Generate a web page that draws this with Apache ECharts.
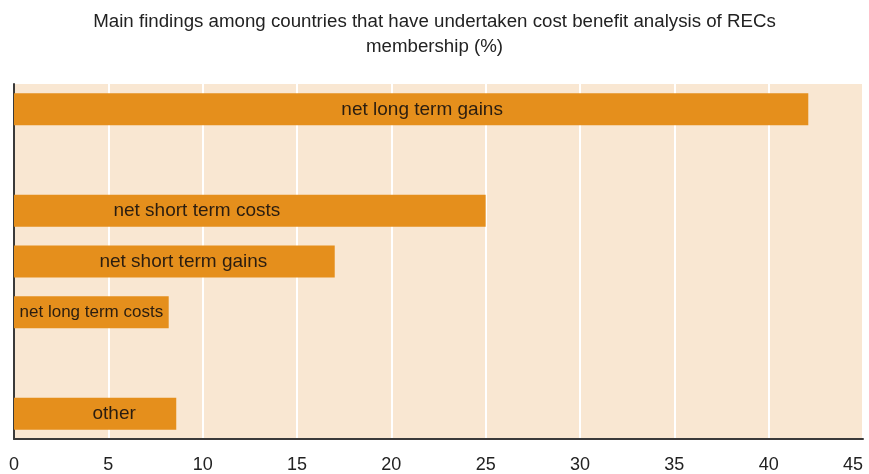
<!DOCTYPE html>
<html>
<head>
<meta charset="utf-8">
<script src="https://cdn.jsdelivr.net/npm/echarts@6/dist/echarts.min.js"></script>
<style>
  html, body { margin: 0; padding: 0; background: #ffffff; }
  #chart { width: 869px; height: 474px; }
</style>
</head>
<body>
<div id="chart"></div>
<script>
// Rows of the chart, top to bottom; empty strings are spacer rows with no bar
const categories = ['net long term gains', '', 'net short term costs', 'net short term gains', 'net long term costs', '', 'other'];
// Share of countries (%) for each row; null for spacer rows
const shares = [42.1, null, 25.0, 17.0, 8.2, null, 8.6];
// Horizontal axis tick values
const xTicks = [0, 5, 10, 15, 20, 25, 30, 35, 40, 45];

const titleText = 'Main findings among countries that have undertaken cost benefit analysis of RECs\nmembership (%)';

// Horizontal nudges for the in-bar labels (px)
const labelNudge = { 'net long term gains': 11, 'net short term costs': -53, 'net short term gains': 9, 'net long term costs': 0, 'other': 19 };

const FONT = '"Liberation Sans", Arial, Helvetica, sans-serif';

const barData = categories.map((name, i) => {
  if (shares[i] === null) return '-';
  return {
    value: shares[i],
    label: {
      offset: [labelNudge[name] || 0, 0],
      fontSize: name === 'net long term costs' ? 17 : 19
    }
  };
});

const chart = echarts.init(document.getElementById('chart'), null, { renderer: 'canvas' });
chart.setOption({
  backgroundColor: '#ffffff',
  animation: false,
  title: {
    text: titleText,
    left: 'center',
    top: 4,
    textStyle: { fontFamily: FONT, fontSize: 18.7, fontWeight: 'normal', color: '#222222', lineHeight: 25, align: 'center' }
  },
  grid: {
    left: 14, right: 6, top: 84, bottom: 35,
    outerBoundsMode: 'none',
    containLabel: false,
    show: true, backgroundColor: '#f9e7d2', borderWidth: 0
  },
  xAxis: {
    type: 'value',
    min: xTicks[0],
    max: xTicks[xTicks.length - 1],
    interval: xTicks[1] - xTicks[0],
    axisLine: { show: true, lineStyle: { color: '#3a3a3a', width: 2 } },
    axisTick: { show: false },
    axisLabel: { fontFamily: FONT, fontSize: 18, color: '#222222', margin: 17, alignMaxLabel: 'right' },
    splitLine: { show: true, lineStyle: { color: '#ffffff', width: 2 } }
  },
  yAxis: {
    type: 'category',
    data: categories,
    inverse: true,
    axisLine: { show: true, onZero: false, lineStyle: { color: '#3a3a3a', width: 2 } },
    axisTick: { show: false },
    axisLabel: { show: false },
    splitLine: { show: false }
  },
  series: [{
    type: 'bar',
    data: barData,
    barWidth: 32,
    itemStyle: { color: '#e58f1c' },
    label: {
      show: true,
      position: 'inside',
      formatter: p => p.name,
      fontFamily: FONT,
      color: '#2a1d10'
    }
  }]
});
</script>
</body>
</html>
